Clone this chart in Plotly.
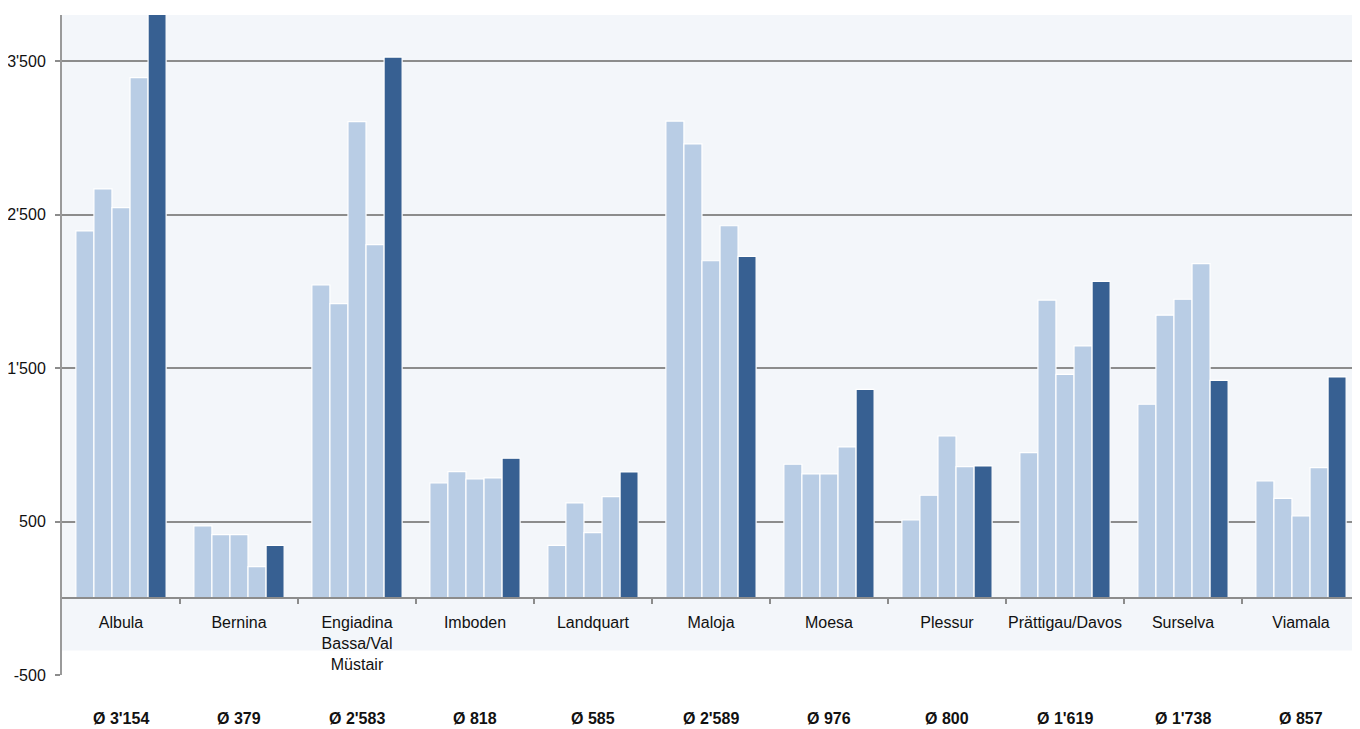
import plotly.graph_objects as go

# ---- data ----
regions = ["Albula", "Bernina", "Engiadina<br>Bassa/Val<br>Müstair", "Imboden", "Landquart",
           "Maloja", "Moesa", "Plessur", "Prättigau/Davos", "Surselva", "Viamala"]
series_names = ["Periode 1", "Periode 2", "Periode 3", "Periode 4", "Periode 5"]
s1 = [2393, 471, 2041, 751, 345, 3109, 873, 510, 949, 1264, 764]
s2 = [2667, 414, 1919, 825, 621, 2960, 810, 671, 1943, 1844, 651]
s3 = [2545, 414, 3105, 777, 427, 2199, 810, 1057, 1459, 1948, 536]
s4 = [3392, 206, 2304, 784, 662, 2427, 986, 857, 1644, 2180, 851]
s5 = [4770, 345, 3526, 912, 823, 2228, 1361, 862, 2065, 1420, 1442]
averages = [3154, 379, 2583, 818, 585, 2589, 976, 800, 1619, 1738, 857]
y_ticks = [-500, 500, 1500, 2500, 3500]

LIGHT = "#b9cde5"
DARK = "#376092"
GRID = "#8c8c8c"
BAND = "#f3f6fa"
FONT = "Arial, Liberation Sans, sans-serif"

series = [s1, s2, s3, s4, s5]
colors = [LIGHT, LIGHT, LIGHT, LIGHT, DARK]
idx = list(range(len(regions)))

fig = go.Figure()
for name, vals, col in zip(series_names, series, colors):
    fig.add_trace(go.Bar(
        x=idx, y=vals, name=name,
        marker=dict(color=col, line=dict(color="#ffffff", width=1.2)),
        hoverinfo="y",
    ))

def fmt(v):
    return f"{v:,}".replace(",", "'")

for i, a in enumerate(averages):
    fig.add_annotation(
        x=i, xref="x", y=-0.0652, yref="paper", yanchor="middle",
        text=f"<b>Ø {fmt(a)}</b>", showarrow=False,
        font=dict(family=FONT, size=16, color="#111111"),
    )

y_min, y_max = -500, 3800
band_bottom = -340
fig.add_shape(type="rect", xref="paper", x0=0, x1=1, yref="y", y0=band_bottom, y1=y_max,
              fillcolor=BAND, line=dict(width=0), layer="below")

fig.update_layout(
    width=1352, height=721,
    margin=dict(l=54, r=0, t=7, b=54),
    paper_bgcolor="#ffffff", plot_bgcolor="#ffffff",
    barmode="group", bargap=0.235, bargroupgap=0,
    showlegend=False,
    font=dict(family=FONT, size=16, color="#111111"),
    xaxis=dict(
        type="linear", range=[-0.5, len(regions) - 0.5],
        tickvals=idx, ticktext=regions,
        anchor="free", position=(0 - y_min) / (y_max - y_min),
        showline=True, linecolor=GRID, linewidth=2,
        showgrid=False, zeroline=False,
        ticks="", ticklabelstandoff=10,
        tickfont=dict(family=FONT, size=16, color="#111111"),
        minor=dict(tickvals=[i + 0.5 for i in idx[:-1]], ticks="outside",
                   ticklen=5, tickcolor=GRID, tickwidth=1.5),
    ),
    yaxis=dict(
        range=[y_min, y_max], tickvals=y_ticks, ticktext=[fmt(t) for t in y_ticks],
        showgrid=True, gridcolor=GRID, gridwidth=1.6,
        zeroline=False,
        showline=True, linecolor="#9a9a9a", linewidth=2,
        ticks="outside", ticklen=5, tickcolor=GRID, tickwidth=1.5,
        tickfont=dict(family=FONT, size=16, color="#111111"),
        ticklabelstandoff=6,
    ),
)

fig.write_html("out.html")
